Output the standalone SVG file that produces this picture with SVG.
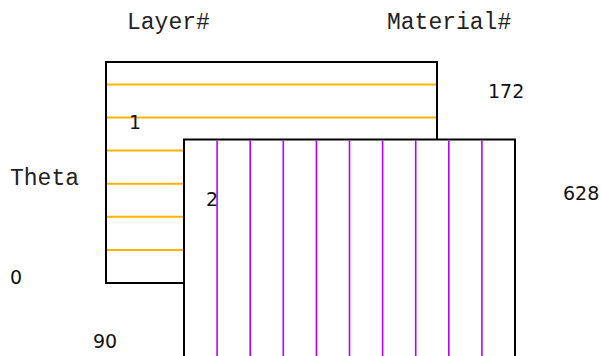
<svg xmlns="http://www.w3.org/2000/svg" width="602" height="356" viewBox="0 0 602 356">
<style>
.hdr{font-family:"Liberation Mono","Courier New",monospace;font-size:23px;fill:#222}
.num{font-family:"DejaVu Sans",Verdana,sans-serif;font-size:19px;fill:#111}
.box{fill:#fff;stroke:#000;stroke-width:2}
.ora{stroke:#ffb300;stroke-width:2}
.pur{stroke:#b300ff;stroke-width:1.6}
</style>
<rect width="602" height="356" fill="#fff"/>
<g id="labels">
<text class="hdr" x="127" y="29">Layer#</text>
<text class="hdr" x="387" y="29">Material#</text>
<text class="hdr" x="10" y="185">Theta</text>
<text class="num" x="488" y="98">172</text>
<text class="num" x="563" y="200">628</text>
<text class="num" x="10" y="284">0</text>
<text class="num" x="93" y="348">90</text>
</g>
<g id="layer1">
<rect class="box" x="106" y="62" width="331" height="221"/>
<g class="ora">
<line x1="107" y1="84.4" x2="436" y2="84.4"/>
<line x1="107" y1="117.5" x2="436" y2="117.5"/>
<line x1="107" y1="150.6" x2="436" y2="150.6"/>
<line x1="107" y1="183.7" x2="436" y2="183.7"/>
<line x1="107" y1="216.8" x2="436" y2="216.8"/>
<line x1="107" y1="249.9" x2="436" y2="249.9"/>
</g>
<text class="num" x="129" y="129">1</text>
</g>
<g id="layer2">
<rect class="box" x="184" y="139.5" width="331" height="221"/>
<g class="pur">
<line x1="217.1" y1="140.5" x2="217.1" y2="356"/>
<line x1="250.2" y1="140.5" x2="250.2" y2="356"/>
<line x1="283.3" y1="140.5" x2="283.3" y2="356"/>
<line x1="316.4" y1="140.5" x2="316.4" y2="356"/>
<line x1="349.5" y1="140.5" x2="349.5" y2="356"/>
<line x1="382.6" y1="140.5" x2="382.6" y2="356"/>
<line x1="415.7" y1="140.5" x2="415.7" y2="356"/>
<line x1="448.8" y1="140.5" x2="448.8" y2="356"/>
<line x1="481.9" y1="140.5" x2="481.9" y2="356"/>
</g>
<text class="num" x="206" y="206">2</text>
</g>
<g id="connectors"/>
</svg>
